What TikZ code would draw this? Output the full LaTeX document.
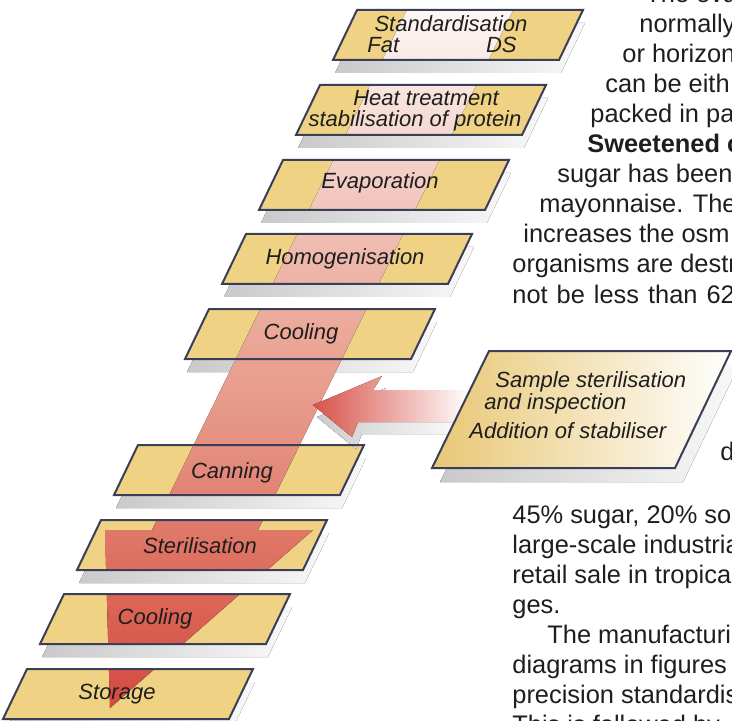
\documentclass[tikz,border=0pt]{standalone}
\usepackage{fontspec}
\setmainfont{Liberation Sans}

\definecolor{plateyellow}{HTML}{EFD283}
\definecolor{plateedge}{HTML}{3A3E56}
\definecolor{boxyellow}{HTML}{E8C774}
\definecolor{arrowred}{HTML}{D8524A}
\definecolor{inktext}{HTML}{1E1E1E}
% flow colours, bottom of the band first
\definecolor{flowa}{HTML}{D24A42}
\definecolor{flowb}{HTML}{DA6152}
\definecolor{flowc}{HTML}{DF7565}
\definecolor{flowd}{HTML}{E38A7A}
\definecolor{flowe}{HTML}{E79B8B}
\definecolor{flowf}{HTML}{EBA898}
\definecolor{flowg}{HTML}{EEB8AC}
\definecolor{flowh}{HTML}{F2CBC2}
\definecolor{flowi}{HTML}{F6DFD9}
\definecolor{flowj}{HTML}{FBF0EE}
\definecolor{flowk}{HTML}{FDF7F5}

\pgfdeclareverticalshading{milkflow}{100bp}{%
  color(0bp)=(flowa); color(25bp)=(flowa); color(31.4bp)=(flowb);
  color(36.8bp)=(flowc); color(42.1bp)=(flowd); color(47.1bp)=(flowe);
  color(51.9bp)=(flowf); color(57.2bp)=(flowg); color(62.5bp)=(flowh);
  color(67.8bp)=(flowi); color(73.2bp)=(flowj); color(75bp)=(flowk);
  color(100bp)=(flowk)}

% one slanted plate, centred on (#1,#2)
\newcommand{\plateoutline}[2]{(#1-101,#2-25) -- (#1+125,#2-25) -- (#1+101,#2+25) -- (#1-125,#2+25) -- cycle}

\begin{document}
\begin{tikzpicture}[x=0.5pt, y=-0.5pt,
    plate shadow/.style={left color=gray!42, right color=gray!5},
    plate edge/.style={draw=plateedge, line width=1pt, line join=miter},
    stage/.style={anchor=base, inner sep=0pt, text=inktext,
      font=\fontsize{11}{10.5}\selectfont\itshape},
    page text/.style={anchor=base west, inner sep=0pt, text=inktext,
      font=\fontsize{12.7}{15}\selectfont}]
  \useasboundingbox (0,0) rectangle (732,721);
  \clip (0,0) rectangle (732,721);

  % plates with their shadows
  \foreach \cx/\cy in {458/35, 421/110, 384/185, 347/259, 310/334,
      239/470, 202/545, 165/619, 128/694} {
    \fill[plate shadow] \plateoutline{\cx+2}{\cy+13};
    \fill[plateyellow] \plateoutline{\cx}{\cy};
  }

  % the product stream, seen only on the plates
  \begin{scope}
    \clip \plateoutline{458}{35} \plateoutline{421}{110} \plateoutline{384}{185}
      \plateoutline{347}{259} \plateoutline{310}{334} \plateoutline{239}{470}
      \plateoutline{202}{545} \plateoutline{165}{619} \plateoutline{128}{694}
      (0,359) rectangle (732,445);
    \fill[shading=milkflow] (407,10) -- (513,10) -- (258,530) -- (313,530)
      -- (110,708) -- (105,530) -- (152,530) -- cycle;
  \end{scope}

  % stabiliser arrow
  \fill[left color=gray!40, right color=white] (317,417) -- (386,388) -- (377,402)
    -- (474,402) -- (474,434) -- (362,434) -- (356,449) -- cycle;
  \fill[left color=arrowred, right color=white] (313,405) -- (382,376) -- (373,390)
    -- (470,390) -- (470,422) -- (358,422) -- (352,437) -- cycle;

  \foreach \cx/\cy in {458/35, 421/110, 384/185, 347/259, 310/334,
      239/470, 202/545, 165/619, 128/694}
    \draw[plate edge] \plateoutline{\cx}{\cy};

  \node[stage] (standardisation) at (451,32) {Standardisation};
  \node[stage, anchor=base west] (fat) at (367,53) {Fat};
  \node[stage, anchor=base east] (dry solids) at (517,53) {DS};
  \node[stage, anchor=center, align=center] (heat treatment) at (415,111) {\hspace*{11pt}Heat treatment\\stabilisation of protein};
  \node[stage] (evaporation) at (380,189) {Evaporation};
  \node[stage] (homogenisation) at (345,265) {Homogenisation};
  \node[stage] (first cooling) at (301,339) {Cooling};
  \node[stage] (canning) at (232,478) {Canning};
  \node[stage] (sterilisation) at (200,553) {Sterilisation};
  \node[stage] (second cooling) at (155,624) {Cooling};
  \node[stage] (storage) at (117,699) {Storage};

  % side step
  \fill[plate shadow] (497,365) -- (739,365) -- (683,482) -- (440,482) -- cycle;
  \draw[plate edge, left color=boxyellow, right color=white] (489,351) -- (731,351)
    -- (675,468) -- (432,468) -- cycle;
  \node[stage, anchor=base west] (sample sterilisation) at (495,387) {Sample sterilisation};
  \node[stage, anchor=base west] (inspection) at (484,409) {and inspection};
  \node[stage, anchor=base west] (stabiliser) at (469,438) {Addition of stabiliser};

  % running text beside the figure
  \node[page text] (line 1) at (645,3) {The evap};
  \node[page text] (line 2) at (639,33) {normally};
  \node[page text] (line 3) at (622,63) {or horizon};
  \node[page text] (line 4) at (605,93) {can be eith};
  \node[page text] (line 5) at (590,123) {packed in pa};
  \node[page text] (line 6) at (587,153) {\bfseries Sweetened c};
  \node[page text] (line 7) at (557,183) {sugar has been};
  \node[page text] (line 8) at (539,213) {mayonnaise. The};
  \node[page text] (line 9) at (523,243) {increases the osm};
  \node[page text] (line 10) at (512,273) {organisms are destr};
  \node[page text] (line 11) at (512,303) {not\hspace{4.5pt}be\hspace{4.5pt}less\hspace{4.5pt}than\hspace{4.5pt}62};
  \node[page text] (line 12) at (720,460) {d};
  \node[page text] (line 13) at (512,523) {45\% sugar, 20\% so};
  \node[page text] (line 14) at (512,553) {large-scale industria};
  \node[page text] (line 15) at (512,583) {retail sale in tropical};
  \node[page text] (line 16) at (512,613) {ges.};
  \node[page text] (line 17) at (547,643) {The manufacturin};
  \node[page text] (line 18) at (512,673) {diagrams in figures};
  \node[page text] (line 19) at (512,703) {precision standardis};
  \node[page text] (line 20) at (512,733) {This is followed by};
\end{tikzpicture}
\end{document}
